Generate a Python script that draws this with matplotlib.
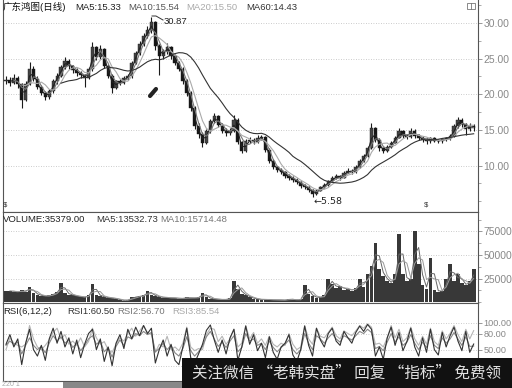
import numpy as np
import pandas as pd
import matplotlib
matplotlib.use("Agg")
import matplotlib.pyplot as plt
from matplotlib.ticker import FixedLocator, MultipleLocator
from matplotlib.patches import Rectangle

plt.rcParams["font.family"] = ["Liberation Sans", "Noto Sans CJK SC", "DejaVu Sans"]

# one bar ~ 4 trading days
close = [22.0, 21.6, 22.3, 21.4, 19.2, 21.5, 23.6, 22.2, 21.0, 20.2,
         19.6, 20.4, 21.8, 22.6, 23.8, 24.7, 23.9, 23.4, 23.0, 22.7,
         22.3, 23.5, 26.6, 25.2, 26.4, 24.0, 22.6, 20.9, 21.8, 21.6,
         22.3, 22.5, 24.4, 25.8, 27.0, 28.2, 29.0, 30.1, 26.8, 25.3,
         26.0, 26.6, 25.3, 24.4, 23.6, 21.9, 20.2, 18.0, 15.6, 14.4,
         13.2, 14.8, 16.2, 16.9, 15.7, 14.9, 14.6, 14.9, 16.4, 13.3,
         12.0, 13.4, 13.6, 13.3, 13.9, 14.0, 12.2, 10.6, 9.8, 9.4,
         9.1, 8.6, 8.3, 8.0, 7.7, 7.2, 7.0, 6.6, 6.0, 6.5,
         7.0, 7.3, 7.8, 8.2, 8.5, 8.3, 9.0, 9.3, 9.1, 9.8,
         10.6, 11.3, 12.4, 15.2, 13.6, 12.4, 12.0, 12.6, 13.2, 13.9,
         14.8, 14.2, 14.0, 14.9, 14.2, 13.9, 13.6, 13.4, 13.8, 13.5,
         13.4, 13.7, 13.8, 14.1, 15.5, 16.4, 15.8, 15.1, 15.6, 15.3]
high = [22.5, 22.4, 22.8, 22.6, 21.6, 21.8, 24.5, 23.9, 22.5, 21.3,
        20.5, 20.7, 22.1, 23.0, 24.1, 25.2, 24.9, 24.1, 23.7, 23.2,
        22.9, 23.8, 27.3, 26.8, 26.9, 26.5, 24.2, 22.8, 22.0, 22.1,
        22.6, 22.9, 24.7, 26.1, 27.4, 28.6, 29.5, 30.87, 30.3, 27.0,
        26.4, 27.2, 26.8, 25.6, 24.7, 23.8, 22.2, 20.5, 18.3, 16.0,
        14.7, 15.1, 16.5, 17.4, 17.1, 16.0, 15.2, 15.3, 17.1, 16.6,
        13.5, 13.7, 14.0, 13.9, 14.3, 14.3, 14.1, 12.4, 10.9, 10.0,
        9.6, 9.3, 8.8, 8.5, 8.2, 7.9, 7.4, 7.1, 6.7, 6.7,
        7.2, 7.5, 8.0, 8.5, 8.8, 8.7, 9.3, 9.6, 9.5, 10.1,
        10.9, 11.6, 12.8, 16.0, 15.4, 13.8, 12.6, 12.9, 13.5, 14.2,
        15.3, 15.0, 14.4, 15.3, 15.1, 14.4, 14.1, 13.8, 14.0, 14.0,
        13.7, 13.9, 14.0, 14.4, 15.8, 16.8, 16.6, 16.0, 15.9, 15.8]
low = [21.4, 21.2, 21.4, 20.9, 18.0, 19.0, 21.3, 21.9, 20.7, 19.9,
       19.2, 19.4, 20.2, 21.5, 22.4, 23.5, 23.6, 23.0, 22.6, 22.3,
       21.0, 22.1, 23.3, 24.8, 25.0, 23.7, 22.3, 20.2, 20.7, 21.3,
       21.4, 22.0, 22.3, 24.2, 25.5, 26.8, 27.9, 28.6, 26.2, 22.7,
       25.0, 25.7, 25.0, 24.1, 23.2, 21.5, 19.8, 17.6, 15.1, 13.9,
       12.6, 13.0, 14.6, 15.9, 15.4, 14.5, 14.2, 14.3, 14.7, 13.0,
       11.7, 11.9, 13.2, 13.0, 13.1, 13.6, 11.9, 10.3, 9.5, 9.1,
       8.8, 8.3, 8.0, 7.7, 7.4, 6.9, 6.7, 6.3, 5.58, 5.9,
       6.4, 6.9, 7.2, 7.7, 8.1, 8.0, 8.2, 8.9, 8.8, 9.0,
       9.7, 10.5, 11.2, 12.3, 13.3, 12.1, 11.7, 11.9, 12.5, 13.1,
       13.8, 13.9, 13.7, 13.9, 13.9, 13.6, 13.3, 13.0, 13.2, 13.3,
       13.1, 13.2, 13.5, 13.6, 14.0, 15.3, 15.4, 14.3, 14.9, 14.9]
first_open = 21.8
volume = [11500, 12000, 11000, 10500, 12500, 11000, 16000, 9500, 8000, 6500,
          6000, 7000, 9000, 11000, 20000, 10000, 8000, 7000, 6000, 5500,
          5000, 7000, 19000, 8000, 6500, 5000, 4500, 4000, 3500, 2000,
          1500, 2500, 5000, 5500, 6500, 7000, 12000, 8000, 6000, 5500,
          4500, 5000, 4000, 4500, 3500, 4000, 5000, 4000, 4500, 5000,
          10000, 5000, 3500, 3000, 3000, 2500, 3000, 4000, 22000, 14000,
          9000, 7000, 5000, 3500, 3000, 2500, 3000, 2500, 2000, 2500,
          2000, 2000, 3500, 2500, 2000, 3000, 18000, 9000, 6000, 4500,
          5500, 7000, 25000, 19000, 15000, 17000, 13000, 14000, 12000, 15000,
          25000, 16000, 30000, 38000, 63000, 35000, 28000, 22000, 20000, 30000,
          72000, 30000, 22000, 25000, 76000, 40000, 18000, 14000, 47000, 13000,
          11000, 12000, 25000, 40000, 22000, 30000, 20000, 18000, 22000, 35379]
rsi1 = [60, 78, 55, 70, 22, 62, 88, 50, 38, 58,
        30, 70, 90, 62, 84, 55, 72, 42, 68, 35,
        60, 80, 88, 50, 70, 28, 55, 20, 62, 78,
        52, 88, 70, 92, 76, 95, 80, 90, 25, 50,
        68, 38, 60, 30, 22, 55, 90, 35, 25, 42,
        60, 86, 96, 68, 45, 68, 42, 72, 88, 30,
        55, 94, 60, 78, 48, 62, 35, 74, 45, 32,
        55, 62, 78, 40, 28, 50, 94, 58, 38, 90,
        68, 55, 80, 90, 66, 58, 84, 72, 62, 82,
        94, 84, 97, 88, 38, 55, 32, 72, 92, 58,
        82, 48, 65, 90, 55, 38, 72, 45, 88, 50,
        40, 82, 55, 76, 92, 66, 48, 84, 45, 60.5]
rsi2 = [58, 66, 60, 64, 42, 58, 72, 58, 50, 56,
        44, 62, 76, 66, 74, 62, 68, 54, 62, 48,
        58, 70, 76, 60, 66, 46, 54, 36, 56, 68,
        58, 74, 70, 80, 76, 84, 78, 82, 46, 52,
        62, 50, 58, 44, 38, 52, 74, 48, 38, 46,
        56, 74, 84, 70, 56, 64, 54, 66, 76, 46,
        54, 80, 66, 70, 58, 62, 50, 66, 54, 46,
        54, 60, 68, 50, 42, 50, 80, 62, 50, 76,
        70, 62, 72, 80, 70, 64, 76, 72, 68, 76,
        84, 80, 88, 82, 52, 56, 48, 64, 80, 64,
        74, 58, 64, 78, 62, 50, 64, 54, 76, 58,
        52, 72, 62, 70, 82, 70, 58, 74, 56, 56.7]
rsi3 = [50, 72, 62, 58, 55, 60, 95, 70, 55, 50,
        58, 68, 82, 90, 70, 78, 60, 66, 58, 72,
        55, 65, 90, 72, 60, 65, 50, 45, 60, 72,
        66, 80, 90, 75, 85, 95, 82, 78, 45, 60,
        55, 75, 50, 55, 48, 62, 92, 55, 48, 52,
        50, 78, 90, 88, 65, 75, 60, 70, 88, 55,
        62, 95, 70, 82, 62, 70, 58, 75, 60, 55,
        62, 58, 80, 60, 50, 55, 95, 70, 60, 90,
        75, 72, 82, 92, 76, 70, 85, 80, 76, 85,
        95, 90, 98, 92, 60, 62, 55, 72, 95, 72,
        88, 65, 72, 92, 70, 58, 75, 60, 90, 65,
        58, 85, 70, 80, 95, 78, 65, 88, 70, 85.54]

ma_windows = [2, 3, 5, 15]          # MA5 / MA10 / MA20 / MA60 in bar units
ma_colors = ["#222222", "#777777", "#aaaaaa", "#333333"]
vol_ma_windows = [2, 3]

price_ticks = [10, 15, 20, 25, 30]
vol_ticks = [25000, 50000, 75000]
rsi_ticks = [50, 80, 100]

W, H = 512, 388
fig = plt.figure(figsize=(W / 100, H / 100), dpi=100)


def box(top, bottom):
    return [3 / W, 1 - bottom / H, 475 / W, (bottom - top) / H]


def fx(px):
    return px / W


def fy(py):
    return 1 - py / H


ax_p = fig.add_axes(box(0, 212))
ax_v = fig.add_axes(box(212, 303))
ax_r = fig.add_axes(box(303, 381))

c = pd.Series(close)
x = np.arange(len(close))
opens = np.r_[first_open, c.values[:-1]]
up = c.values >= opens

# price candles
ax_p.vlines(x, low, high, color="#1a1a1a", lw=0.8, zorder=3)
body = np.maximum(np.abs(c.values - opens), 0.1)
ax_p.bar(x, body, bottom=np.minimum(opens, c.values), width=0.8,
         color=np.where(up, "#444444", "#151515"), edgecolor="#1a1a1a",
         lw=0.3, zorder=4)
for w, col in zip(ma_windows, ma_colors):
    ax_p.plot(x, c.rolling(w).mean(), color=col, lw=0.8, zorder=5)

# volume
v = pd.Series(volume)
ax_v.bar(x, volume, width=0.95, color="#383838", zorder=3)
for w, col in zip(vol_ma_windows, ["#666666", "#999999"]):
    ax_v.plot(x, v.rolling(w).mean(), color=col, lw=0.7, zorder=4)

# rsi
for vals, col in [(rsi3, "#b5b5b5"), (rsi2, "#888888"), (rsi1, "#333333")]:
    ax_r.plot(x, vals, color=col, lw=0.8)

xl = (-0.76, 120.1)
for ax, lim, ticks, fmt, lsz in [(ax_p, (3.5, 33.2), price_ticks, "{:.2f}", 7.5),
                                 (ax_v, (-1000, 95700), vol_ticks, "{:d}", 7.5),
                                 (ax_r, (-8.5, 137), rsi_ticks, "{:.2f}", 6.6)]:
    ax.set_xlim(*xl)
    ax.set_ylim(*lim)
    ax.set_xticks([])
    ax.yaxis.tick_right()
    ax.yaxis.set_major_locator(FixedLocator(ticks))
    ax.set_yticklabels([fmt.format(t) for t in ticks])
    ax.tick_params(axis="y", direction="out", length=3, width=0.6,
                   colors="#888888", labelsize=lsz, pad=1)
    ax.tick_params(axis="y", which="minor", length=2, width=0.5, colors="#888888")
    for t in ticks:
        ax.axhline(t, color="#bbbbbb", lw=0.6, ls=(0, (1, 2)), zorder=1)
    for s in ax.spines.values():
        s.set_color("#555555")
        s.set_linewidth(0.8)
    ax.set_facecolor("white")

ax_p.yaxis.set_minor_locator(MultipleLocator(2.5))
ax_v.yaxis.set_minor_locator(MultipleLocator(12500))
ax_p.spines["top"].set_visible(False)
ax_r.axhline(20, color="#bbbbbb", lw=0.6, ls=(0, (1, 2)), zorder=1)

# panel headers
fs = 6.8
heads = [
    (7, [(3, "广东鸿图(日线)", "#111111"), (75, "MA5:15.33", "#222222"),
         (128, "MA10:15.54", "#555555"), (186, "MA20:15.50", "#aaaaaa"),
         (246, "MA60:14.43", "#333333")]),
    (220, [(3, "VOLUME:35379.00", "#222222"), (96, "MA5:13532.73", "#333333"),
           (160, "MA10:15714.48", "#777777")]),
    (312, [(3, "RSI(6,12,2)", "#222222"), (67, "RSI1:60.50", "#333333"),
           (117, "RSI2:56.70", "#777777"), (172, "RSI3:85.54", "#aaaaaa")]),
]
for yy, items in heads:
    for xx, s, col in items:
        fig.text(fx(xx), fy(yy), s, fontsize=fs, color=col, va="center", ha="left")

# extreme price labels
fig.add_artist(plt.Line2D([fx(152), fx(156), fx(163)], [fy(16), fy(16), fy(20)],
                          color="#333333", lw=0.7))
fig.text(fx(164), fy(22), "30.87", fontsize=fs, color="#222222", va="center")
fig.text(fx(313), fy(201), "←5.58", fontsize=fs, color="#222222", va="center",
         family=["DejaVu Sans"])
fig.add_artist(plt.Line2D([fx(150), fx(156)], [fy(96), fy(89)], color="#222222",
                          lw=3, solid_capstyle="round"))
for xx in (3, 424):
    fig.text(fx(xx), fy(205), r"\$", fontsize=5.5, color="#333333", va="center")
fig.add_artist(Rectangle((fx(467), fy(9)), 8 / W, 6 / H, fill=False,
                         edgecolor="#777777", lw=0.6))
fig.add_artist(plt.Line2D([fx(471), fx(471)], [fy(9), fy(3)], color="#777777", lw=0.6))

# bottom strip
fig.add_artist(Rectangle((fx(63), 0), 120 / W, 6 / H, color="#888888", lw=0))
fig.text(fx(2), fy(384), "220 1", fontsize=5, color="#aaaaaa", va="center")

# overlay banner
fig.add_artist(Rectangle((fx(182), 0), 330 / W, 30 / H, color="#111111", lw=0, zorder=10))
fig.text(fx(192), fy(373), "关注微信 “老韩实盘” 回复 “指标” 免费领", fontsize=11.2,
         color="#e0e0e0", va="center", ha="left", zorder=11,
         family=["Noto Sans CJK SC"])

fig.savefig("out.png", dpi=100, facecolor="white")
